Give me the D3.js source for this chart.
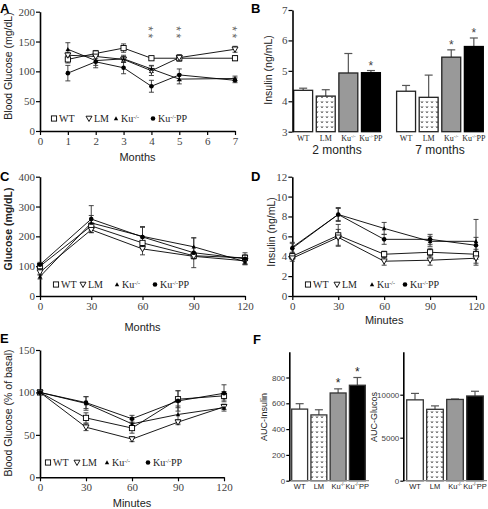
<!DOCTYPE html>
<html><head><meta charset="utf-8">
<script src="https://cdn.jsdelivr.net/npm/d3@7"></script>
<style>body{margin:0;background:#fff}svg{display:block}</style>
</head><body><svg id="c" width="488" height="509"></svg>
<script>
// ---------- DATA ----------
const groups = ["WT","LM","Ku","KuPP"];
// Panel A
const aMonths = [1,2,3,4,5,7];
const aWT   = [120,130,139,122,122,122], aWTe   = [6,5,7,3,5,4];
const aLM   = [127,125,120,101,123,137], aLMe   = [5,4,5,8,5,5];
const aKu   = [137,118,121,104,87,88],   aKue   = [11,8,6,6,8,4];
const aKuPP = [97,116,106,75,94,85],     aKuPPe = [13,10,10,10,10,4];
const aStars = [4,5,7];
// Panel B
const bPeriods = ["2 months","7 months"];
const b2 = [4.36,4.17,4.93,4.94], b2e = [0.07,0.21,0.64,0.07];
const b7 = [4.33,4.13,5.45,5.80], b7e = [0.19,0.73,0.24,0.28];
const b2Stars = ["KuPP"], b7Stars = ["Ku","KuPP"];
// Panel C
const cMin = [0,30,60,90,120];
const cWT   = [100,235,178,135,128], cWTe   = [10,10,20,10,10];
const cLM   = [80,222,158,133,118],  cLMe   = [10,10,20,8,10];
const cKu   = [65,245,200,165,115],  cKue   = [8,25,30,30,10];
const cKuPP = [105,258,198,145,125], cKuPPe = [8,45,35,50,20];
// Panel D
const dMin = [0,30,60,90,120];
const dWT   = [4.0,6.1,4.2,4.4,4.2], dWTe   = [0.3,1.1,0.3,0.4,0.5];
const dLM   = [3.8,5.9,3.5,3.6,3.8], dLMe   = [0.3,0.8,0.4,0.5,0.7];
const dKu   = [4.9,8.2,6.8,5.5,5.5], dKue   = [0.5,0.7,0.6,0.5,2.2];
const dKuPP = [4.8,8.2,5.7,5.7,5.1], dKuPPe = [0.5,0.6,0.5,0.5,0.8];
// Panel E
const eMin = [0,30,60,90,120];
const eWT   = [100,70,58,92,96],  eWTe   = [0,6,6,10,5];
const eLM   = [100,59,45,65,83],  eLMe   = [0,4,3,3,3];
const eKu   = [100,87,63,74,82],  eKue   = [0,8,5,10,4];
const eKuPP = [100,88,69,90,99],  eKuPPe = [0,7,4,12,10];
// Panel F
const fIns = [555,510,680,740],     fInse = [42,40,32,60];
const fGlu = [9400,8300,9450,9850], fGlue = [750,400,50,550];
const fStars = ["Ku","KuPP"];

// ---------- DRAWING ----------
const svg = d3.select("#c");
const SERIF = "'Liberation Serif', 'Times New Roman', serif";
const SANS = "'Liberation Sans', Arial, sans-serif";
const fmt = d3.format("d");

const defs = svg.append("defs");
const pat = defs.append("pattern").attr("id","vpat").attr("patternUnits","userSpaceOnUse")
  .attr("width",5).attr("height",5);
pat.append("rect").attr("width",5).attr("height",5).attr("fill","#fff");
pat.append("path").attr("d","M1,1.2 L2,3 L3,1.2").attr("fill","none").attr("stroke","#333").attr("stroke-width",0.7);

function panelLabel(t,x,y){
  svg.append("text").attr("x",x).attr("y",y).text(t)
    .attr("font-family",SANS).attr("font-weight","bold").attr("font-size",13).attr("fill","#000");
}
function styleAxis(g, font, size){
  g.attr("font-family",font).attr("font-size",size);
  g.select(".domain").attr("stroke","#000").attr("stroke-width",1.6);
  g.selectAll(".tick line").attr("stroke","#000").attr("stroke-width",1.2);
  g.selectAll(".tick text").attr("font-family",font).attr("font-size",size).attr("fill","#444");
}
function koLabel(sel, base, suffix, size){
  sel.append("tspan").text(base);
  sel.append("tspan").text("-/-").attr("font-size",size*0.6).attr("dy",-size*0.35);
  if (suffix) sel.append("tspan").text(suffix).attr("dy",size*0.35);
}
function marker(g, type, x, y){
  if (type==="WT") g.append("rect").attr("x",x-2.6).attr("y",y-2.6).attr("width",5.2).attr("height",5.2)
      .attr("fill","#fff").attr("stroke","#000").attr("stroke-width",0.9);
  else if (type==="LM") g.append("path").attr("d",`M${x-3},${y-2.3}L${x+3},${y-2.3}L${x},${y+3}Z`)
      .attr("fill","#fff").attr("stroke","#000").attr("stroke-width",0.9);
  else if (type==="Ku") g.append("path").attr("d",`M${x-2.2},${y+1.8}L${x+2.2},${y+1.8}L${x},${y-2.3}Z`).attr("fill","#000");
  else g.append("circle").attr("cx",x).attr("cy",y).attr("r",2.3).attr("fill","#000");
}
function legend(g, y, xs, size){
  groups.forEach((k,i)=>{
    marker(g,k,xs[i],y-3.5);
    const t = g.append("text").attr("x",xs[i]+5).attr("y",y).attr("font-family",SERIF).attr("font-size",size).attr("fill","#222");
    if (k==="WT") t.text("WT"); else if (k==="LM") t.text("LM");
    else if (k==="Ku") koLabel(t,"Ku","",size); else koLabel(t,"Ku","PP",size);
  });
}
function linePanel(c){
  const x = d3.scaleLinear().domain(c.xDom).range(c.xRange);
  const y = d3.scaleLinear().domain(c.yDom).range(c.yRange);
  const g = svg.append("g");
  const ax = g.append("g").attr("transform",`translate(0,${c.yRange[0]})`)
    .call(d3.axisBottom(x).tickValues(c.xTicks).tickFormat(fmt).tickSize(4).tickSizeOuter(0).tickPadding(2));
  styleAxis(ax, SERIF, 11);
  const ay = g.append("g").attr("transform",`translate(${c.xRange[0]},0)`)
    .call(d3.axisLeft(y).tickValues(c.yTicks).tickFormat(fmt).tickSize(4).tickSizeOuter(0).tickPadding(1));
  styleAxis(ay, SERIF, 11);
  g.append("text").attr("x",(c.xRange[0]+c.xRange[1])/2).attr("y",c.xTitleY).attr("text-anchor","middle")
    .attr("font-family",SANS).attr("font-size",11).attr("fill","#222").text(c.xTitle);
  g.append("text").attr("transform",`translate(${c.yTitleX},${c.yTitleY}) rotate(-90)`).attr("text-anchor","middle")
    .attr("font-family",SANS).attr("font-size",10.5).attr("font-weight",c.bold?"bold":"normal").attr("fill","#222").text(c.yTitle);
  const line = d3.line().x((d,i)=>x(c.xs[i])).y(d=>y(d));
  c.series.forEach(s=>{
    g.append("path").attr("d",line(s.v)).attr("fill","none").attr("stroke","#000").attr("stroke-width",0.9);
  });
  c.series.forEach(s=>{
    s.v.forEach((v,i)=>{
      if (!s.e[i]) return;
      const xx = x(c.xs[i]), y1=y(v+s.e[i]), y2=y(v-s.e[i]);
      g.append("line").attr("x1",xx).attr("x2",xx).attr("y1",y1).attr("y2",y2).attr("stroke","#333").attr("stroke-width",0.9);
      [y1,y2].forEach(yy=>g.append("line").attr("x1",xx-2.5).attr("x2",xx+2.5).attr("y1",yy).attr("y2",yy).attr("stroke","#333").attr("stroke-width",0.9));
    });
  });
  c.series.forEach(s=>s.v.forEach((v,i)=>marker(g,s.k,x(c.xs[i]),y(v))));
  legend(g, c.legY, c.legXs, 10);
  return {x,y,g};
}

// Panel A
panelLabel("A",0,13);
const A = linePanel({xDom:[0,7],xRange:[40,235],yDom:[0,200],yRange:[131,11.7],xTicks:d3.range(0,8),yTicks:[0,50,100,150,200],
  xs:aMonths, series:[{k:"WT",v:aWT,e:aWTe},{k:"LM",v:aLM,e:aLMe},{k:"Ku",v:aKu,e:aKue},{k:"KuPP",v:aKuPP,e:aKuPPe}],
  xTitle:"Months",xTitleY:161,yTitle:"Blood Glucose (mg/dL)",yTitleX:12,yTitleY:66,legY:122,legXs:[54,89,116,153]});
// stacked double asterisks: one text per month, written vertically
aStars.forEach(m=>{
  A.g.append("text").attr("transform",`translate(${A.x(m)},33.5) rotate(90)`)
    .attr("text-anchor","middle").attr("dy","0.6em").attr("letter-spacing",2.5)
    .attr("font-family",SANS).attr("font-size",12).attr("fill","#666").text("**");
});

// Panel B
panelLabel("B",251,13);
(function(){
  const y = d3.scaleLinear().domain([3,7]).range([131.7,10]);
  const xo = d3.scaleBand().domain(bPeriods).range([293,484]).paddingInner(0.144);
  const xi = d3.scaleBand().domain(groups).range([0,xo.bandwidth()]).paddingInner(0.1);
  const g = svg.append("g");
  const data = [{p:"2 months",v:b2,e:b2e,s:b2Stars},{p:"7 months",v:b7,e:b7e,s:b7Stars}];
  const fills = {WT:"#fff",LM:"url(#vpat)",Ku:"#999",KuPP:"#000"};
  data.forEach(d=>{
    groups.forEach((k,i)=>{
      const x0 = xo(d.p)+xi(k), w = xi.bandwidth();
      const top = y(d.v[i]);
      const et = y(d.v[i]+d.e[i]);
      g.append("line").attr("x1",x0+w/2).attr("x2",x0+w/2).attr("y1",top).attr("y2",et).attr("stroke","#555").attr("stroke-width",1.2);
      g.append("line").attr("x1",x0+w/2-4).attr("x2",x0+w/2+4).attr("y1",et).attr("y2",et).attr("stroke","#555").attr("stroke-width",1.2);
      g.append("rect").attr("x",x0+0.7).attr("y",top).attr("width",w-1.4).attr("height",y(3)-top)
        .attr("fill",fills[k]).attr("stroke",k==="KuPP"?"#000":"#222").attr("stroke-width",1.3);
      if (d.s.includes(k)) g.append("text").attr("x",x0+w/2).attr("y",et-1).attr("text-anchor","middle")
        .attr("font-family",SANS).attr("font-size",12).attr("fill","#444").text("*");
      const t = g.append("text").attr("x",x0+w/2).attr("y",141).attr("text-anchor","middle")
        .attr("font-family",SERIF).attr("font-size",8).attr("fill","#222");
      if (k==="WT") t.text("WT"); else if (k==="LM") t.text("LM"); else if (k==="Ku") koLabel(t,"Ku","",8); else koLabel(t,"Ku","PP",8);
    });
    g.append("text").attr("x",xo(d.p)+xo.bandwidth()/2).attr("y",154).attr("text-anchor","middle")
      .attr("font-family",SANS).attr("font-size",12).attr("fill","#222").text(d.p);
  });
  const ay = g.append("g").attr("transform","translate(292.5,0)")
    .call(d3.axisLeft(y).tickValues([3,4,5,6,7]).tickFormat(fmt).tickSize(4).tickSizeOuter(0).tickPadding(1));
  styleAxis(ay, SERIF, 11);
  g.append("text").attr("transform","translate(272,70) rotate(-90)").attr("text-anchor","middle")
    .attr("font-family",SANS).attr("font-size",10.5).attr("fill","#222").text("Insulin (ng/mL)");
})();

// Panel C
panelLabel("C",0,181);
linePanel({xDom:[0,120],xRange:[40,245],yDom:[0,400],yRange:[296,176.7],xTicks:cMin,yTicks:[0,100,200,300,400],
  xs:cMin, series:[{k:"WT",v:cWT,e:cWTe},{k:"LM",v:cLM,e:cLMe},{k:"Ku",v:cKu,e:cKue},{k:"KuPP",v:cKuPP,e:cKuPPe}],
  xTitle:"Months",xTitleY:331,yTitle:"Glucose (mg/dL)",yTitleX:12,yTitleY:229,bold:true,legY:288,legXs:[56,83,117,155]});

// Panel D
panelLabel("D",251,181);
linePanel({xDom:[0,120],xRange:[292.3,476],yDom:[0,12],yRange:[296,176.7],xTicks:dMin,yTicks:[0,2,4,6,8,10,12],
  xs:dMin, series:[{k:"WT",v:dWT,e:dWTe},{k:"LM",v:dLM,e:dLMe},{k:"Ku",v:dKu,e:dKue},{k:"KuPP",v:dKuPP,e:dKuPPe}],
  xTitle:"Minutes",xTitleY:324,yTitle:"Insulin (ng/mL)",yTitleX:275,yTitleY:232,legY:288,legXs:[308,337,372,405]});

// Panel E
panelLabel("E",0,343);
linePanel({xDom:[0,120],xRange:[40,224],yDom:[0,150],yRange:[477.3,350],xTicks:eMin,yTicks:[0,50,100,150],
  xs:eMin, series:[{k:"WT",v:eWT,e:eWTe},{k:"LM",v:eLM,e:eLMe},{k:"Ku",v:eKu,e:eKue},{k:"KuPP",v:eKuPP,e:eKuPPe}],
  xTitle:"Minutes",xTitleY:507,yTitle:"Blood Glucose (% of basal)",yTitleX:12,yTitleY:413,legY:466,legXs:[48,77,107,148]});

// Panel F
panelLabel("F",253,344);
function barPanel(vals, errs, yMax, ticks, xr, axisX, title, titleX, stars){
  const y = d3.scaleLinear().domain([0,yMax]).range([480.7,351.7]);
  const x = d3.scaleBand().domain(groups).range(xr).paddingInner(0.1);
  const g = svg.append("g");
  const fills = {WT:"#fff",LM:"url(#vpat)",Ku:"#999",KuPP:"#000"};
  groups.forEach((k,i)=>{
    const x0 = x(k), w = x.bandwidth(), top = y(vals[i]), et = y(vals[i]+errs[i]);
    g.append("line").attr("x1",x0+w/2).attr("x2",x0+w/2).attr("y1",top).attr("y2",et).attr("stroke","#555").attr("stroke-width",1.2);
    g.append("line").attr("x1",x0+w/2-4).attr("x2",x0+w/2+4).attr("y1",et).attr("y2",et).attr("stroke","#555").attr("stroke-width",1.2);
    g.append("rect").attr("x",x0+0.7).attr("y",top).attr("width",w-1.4).attr("height",y(0)-top)
      .attr("fill",fills[k]).attr("stroke","#333").attr("stroke-width",1.3);
    if (stars.includes(k)) g.append("text").attr("x",x0+w/2).attr("y",et-2).attr("text-anchor","middle")
      .attr("font-family",SANS).attr("font-size",12).attr("fill","#222").text("*");
    const t = g.append("text").attr("x",x0+w/2).attr("y",489).attr("text-anchor","middle")
      .attr("font-family",SANS).attr("font-size",7.5).attr("fill","#222");
    if (k==="WT") t.text("WT"); else if (k==="LM") t.text("LM"); else if (k==="Ku") koLabel(t,"Ku","",7.5); else koLabel(t,"Ku","PP",7.5);
  });
  g.append("line").attr("x1",axisX).attr("x2",xr[1]+3).attr("y1",480.7).attr("y2",480.7).attr("stroke","#888").attr("stroke-width",1.2);
  const ay = g.append("g").attr("transform",`translate(${axisX},0)`)
    .call(d3.axisLeft(y).tickValues(ticks).tickFormat(fmt).tickSize(3).tickSizeOuter(0).tickPadding(1));
  styleAxis(ay, SANS, 8);
  g.append("text").attr("transform",`translate(${titleX},417) rotate(-90)`).attr("text-anchor","middle")
    .attr("font-family",SANS).attr("font-size",9).attr("fill","#222").text(title);
}
barPanel(fIns, fInse, 1000, [0,200,400,600,800], [291,366], 289.3, "AUC-Insulin", 267, fStars);
barPanel(fGlu, fGlue, 15000, [0,5000,10000], [406,484], 403.3, "AUC-Glucos", 377, []);
</script></body></html>
